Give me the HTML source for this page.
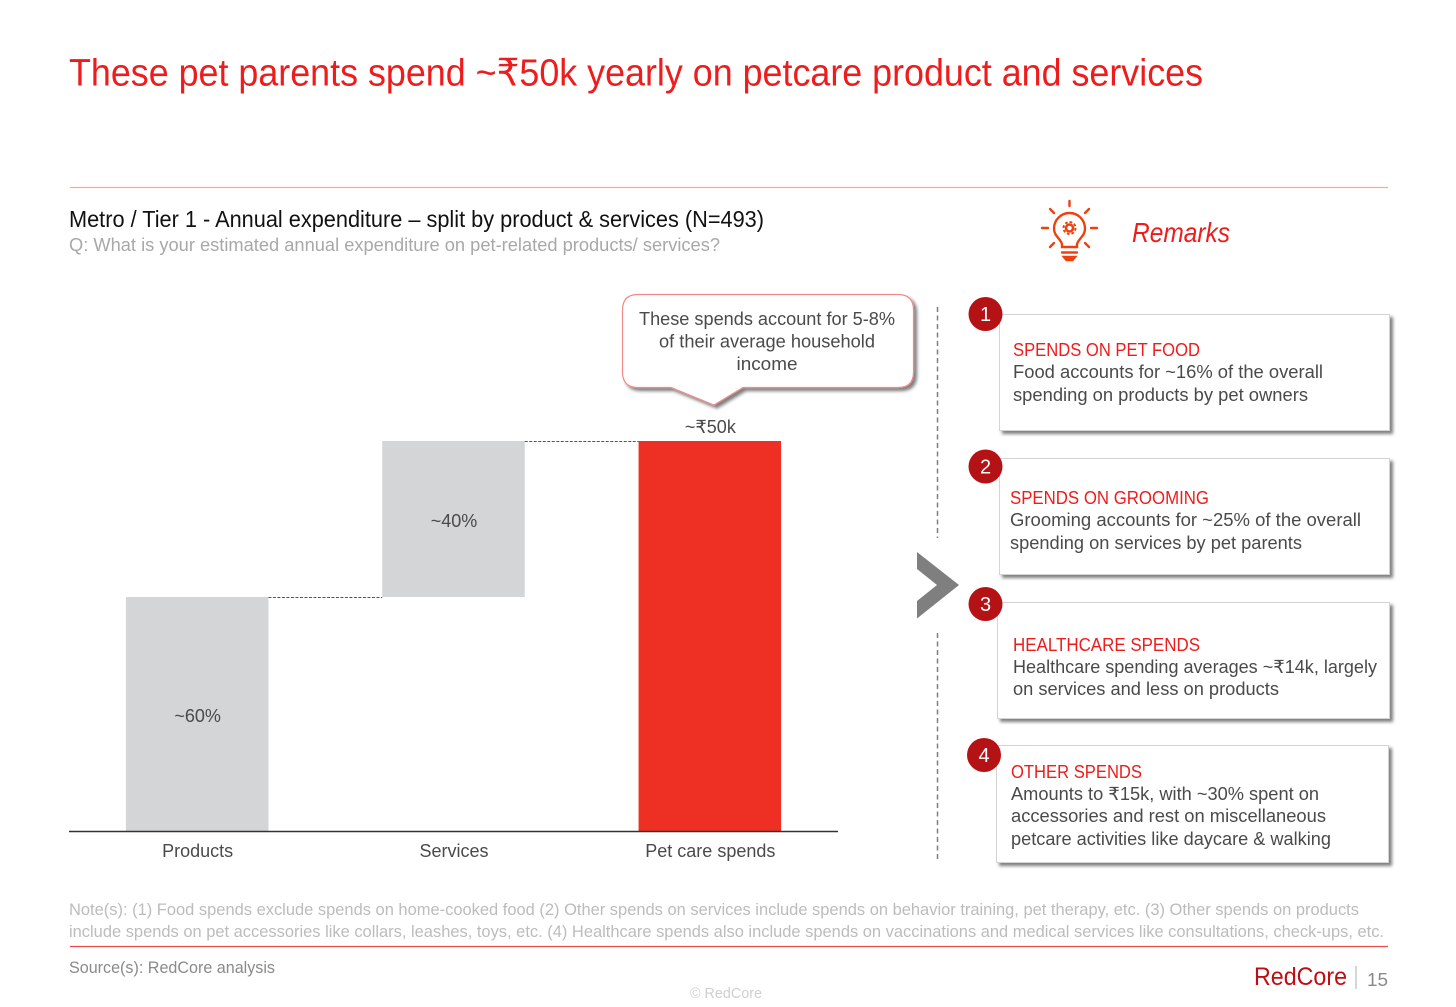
<!DOCTYPE html>
<html lang="en">
<head>
<meta charset="utf-8">
<title>Pet parents annual spend</title>
<style>
html,body{margin:0;padding:0;background:#fff;width:1456px;height:1007px;overflow:hidden}
svg{display:block}
text{font-family:"Liberation Sans","DejaVu Sans",sans-serif}
.body{font-size:18px;fill:#4a4a4a}
.head{font-size:18px;fill:#ee1c1c}
.note{font-size:16.5px;fill:#bcbcbc}
</style>
</head>
<body>
<svg id="slide" xmlns="http://www.w3.org/2000/svg" width="1456" height="1007" viewBox="0 0 1456 1007">
<defs>
<filter id="sh" x="-10%" y="-10%" width="125%" height="130%"><feDropShadow dx="3" dy="3" stdDeviation="1.5" flood-color="#000" flood-opacity=".5"/></filter>
</defs>
<rect width="1456" height="1007" fill="#fff"/>
<text x="69" y="85.5" font-size="38" fill="#ee1c1c" textLength="1134" lengthAdjust="spacingAndGlyphs">These pet parents spend ~₹50k yearly on petcare product and services</text>
<line x1="70" y1="187.5" x2="1388" y2="187.5" stroke="#f3a9a9" stroke-width="1.2"/>
<text x="69" y="227" font-size="23" fill="#111" textLength="695" lengthAdjust="spacingAndGlyphs">Metro / Tier 1 - Annual expenditure – split by product &amp; services (N=493)</text>
<text x="69" y="251" font-size="18" fill="#a8a8a8" textLength="651" lengthAdjust="spacingAndGlyphs">Q: What is your estimated annual expenditure on pet-related products/ services?</text>

<g id="chart"></g>

<g>
<path d="M638 294.500H898Q913.500 294.500 913.500 310V372Q913.500 387.500 898 387.500H743L714 405L671 387.500H638Q622.500 387.500 622.500 372V310Q622.500 294.500 638 294.500Z" fill="#fff" stroke="#ef8a8a" stroke-width="1.2" filter="url(#sh)"/>
<text x="767" y="325" text-anchor="middle" class="body" textLength="256" lengthAdjust="spacingAndGlyphs">These spends account for 5-8%</text>
<text x="767" y="347.500" text-anchor="middle" class="body" textLength="216" lengthAdjust="spacingAndGlyphs">of their average household</text>
<text x="767" y="370" text-anchor="middle" class="body" textLength="61" lengthAdjust="spacingAndGlyphs">income</text>
</g>

<line x1="937.500" y1="307" x2="937.500" y2="538" stroke="#808080" stroke-width="1.5" stroke-dasharray="5 3.500"/>
<line x1="937.500" y1="633" x2="937.500" y2="862" stroke="#808080" stroke-width="1.5" stroke-dasharray="5 3.500"/>
<path d="M917 552L959 585L917 618.500V601L937 585L917 569Z" fill="#7f7f7f"/>

<g fill="none" stroke="#f0400f" stroke-width="2.400" stroke-linecap="round">
<path d="M1062 247V244C1060 238 1054 236 1054 228.500A15.500 15.500 0 1 1 1085 228.500C1085 236 1079 238 1077 244V247Z"/>
<line x1="1062" y1="252.500" x2="1077" y2="252.500"/>
<path d="M1064 257H1075L1072.500 260H1066.500Z" fill="#f0400f"/>
<line x1="1069.500" y1="201" x2="1069.500" y2="206"/>
<line x1="1050" y1="209" x2="1054" y2="213"/>
<line x1="1089" y1="209" x2="1085" y2="213"/>
<line x1="1042" y1="228" x2="1048" y2="228"/>
<line x1="1091" y1="228" x2="1097" y2="228"/>
<line x1="1050" y1="247" x2="1054" y2="243"/>
<line x1="1089" y1="247" x2="1085" y2="243"/>
<circle cx="1069.500" cy="228" r="3.500" stroke-width="2.500"/>
<circle cx="1069.500" cy="228" r="6" stroke-width="2" stroke-linecap="butt" stroke-dasharray="2.700 2"/>
</g>
<text x="1132" y="242" font-size="28" font-style="italic" fill="#ee1c1c" textLength="98" lengthAdjust="spacingAndGlyphs">Remarks</text>

<g>
<rect x="999.500" y="314.500" width="390" height="116" fill="#fff" stroke="#d4d4d4" filter="url(#sh)"/>
<circle cx="985.500" cy="314" r="17" fill="#b51216"/>
<text x="985.500" y="321" text-anchor="middle" font-size="20" fill="#fff">1</text>
<text x="1013" y="356" class="head" textLength="187" lengthAdjust="spacingAndGlyphs">SPENDS ON PET FOOD</text>
<text x="1013" y="378" class="body" textLength="310" lengthAdjust="spacingAndGlyphs">Food accounts for ~16% of the overall</text>
<text x="1013" y="401" class="body" textLength="295" lengthAdjust="spacingAndGlyphs">spending on products by pet owners</text>
</g>
<g>
<rect x="999.500" y="458.500" width="390" height="116" fill="#fff" stroke="#d4d4d4" filter="url(#sh)"/>
<circle cx="985.500" cy="466.500" r="17" fill="#b51216"/>
<text x="985.500" y="473.500" text-anchor="middle" font-size="20" fill="#fff">2</text>
<text x="1010" y="504" class="head" textLength="199" lengthAdjust="spacingAndGlyphs">SPENDS ON GROOMING</text>
<text x="1010" y="526" class="body" textLength="351" lengthAdjust="spacingAndGlyphs">Grooming accounts for ~25% of the overall</text>
<text x="1010" y="549" class="body" textLength="292" lengthAdjust="spacingAndGlyphs">spending on services by pet parents</text>
</g>
<g>
<rect x="997.500" y="602.500" width="392" height="116" fill="#fff" stroke="#d4d4d4" filter="url(#sh)"/>
<circle cx="985.500" cy="604" r="17" fill="#b51216"/>
<text x="985.500" y="611" text-anchor="middle" font-size="20" fill="#fff">3</text>
<text x="1013" y="651" class="head" textLength="187" lengthAdjust="spacingAndGlyphs">HEALTHCARE SPENDS</text>
<text x="1013" y="673" class="body" textLength="364" lengthAdjust="spacingAndGlyphs">Healthcare spending averages ~₹14k, largely</text>
<text x="1013" y="695" class="body" textLength="266" lengthAdjust="spacingAndGlyphs">on services and less on products</text>
</g>
<g>
<rect x="996.500" y="745.500" width="392" height="117" fill="#fff" stroke="#d4d4d4" filter="url(#sh)"/>
<circle cx="984" cy="755" r="17" fill="#b51216"/>
<text x="984" y="762" text-anchor="middle" font-size="20" fill="#fff">4</text>
<text x="1011" y="778" class="head" textLength="131" lengthAdjust="spacingAndGlyphs">OTHER SPENDS</text>
<text x="1011" y="800" class="body" textLength="308" lengthAdjust="spacingAndGlyphs">Amounts to ₹15k, with ~30% spent on</text>
<text x="1011" y="822" class="body" textLength="315" lengthAdjust="spacingAndGlyphs">accessories and rest on miscellaneous</text>
<text x="1011" y="845" class="body" textLength="320" lengthAdjust="spacingAndGlyphs">petcare activities like daycare &amp; walking</text>
</g>

<text x="69" y="915" class="note" textLength="1290" lengthAdjust="spacingAndGlyphs">Note(s): (1) Food spends exclude spends on home-cooked food (2) Other spends on services include spends on behavior training, pet therapy, etc. (3) Other spends on products</text>
<text x="69" y="937" class="note" textLength="1315" lengthAdjust="spacingAndGlyphs">include spends on pet accessories like collars, leashes, toys, etc. (4) Healthcare spends also include spends on vaccinations and medical services like consultations, check-ups, etc.</text>
<line x1="70" y1="946.500" x2="1388" y2="946.500" stroke="#ef4a4a" stroke-width="1.200"/>
<text x="69" y="973" font-size="16.500" fill="#8a8a8a" textLength="206" lengthAdjust="spacingAndGlyphs">Source(s): RedCore analysis</text>
<text x="690" y="998" font-size="14.500" fill="#cfcfcf" textLength="72" lengthAdjust="spacingAndGlyphs">© RedCore</text>
<text x="1254" y="985" font-size="25" fill="#c00d12" textLength="93" lengthAdjust="spacingAndGlyphs">RedCore</text>
<line x1="1356" y1="966" x2="1356" y2="989" stroke="#c9c9c9" stroke-width="1.500"/>
<text x="1367" y="986" font-size="18" fill="#8a8a8a" textLength="21" lengthAdjust="spacingAndGlyphs">15</text>
</svg>
<script>
var categories = ['Products', 'Services', 'Pet care spends'];
var seriesValues = [60, 40, 100];
var barLabels = ['~60%', '~40%', '~₹50k'];
var barKinds = ['part', 'part', 'total'];

var NS = 'http://www.w3.org/2000/svg';
var chart = document.getElementById('chart');
var plot = { left: 69, right: 838, top: 441, base: 831, max: 100 };
var step = (plot.right - plot.left) / categories.length;
var barWidth = step * 0.556;

function xCenter(i) { return plot.left + step * (i + 0.5); }
function yScale(v) { return plot.base - (v / plot.max) * (plot.base - plot.top); }
function make(tag, attrs) {
  var el = document.createElementNS(NS, tag);
  for (var k in attrs) el.setAttribute(k, attrs[k]);
  chart.appendChild(el);
  return el;
}

var running = 0;
var tops = [];
categories.forEach(function (name, i) {
  var isTotal = barKinds[i] === 'total';
  var start = isTotal ? 0 : running;
  var end = isTotal ? seriesValues[i] : running + seriesValues[i];
  running = end;
  tops.push(end);
  var bar = make('rect', {
    x: xCenter(i) - barWidth / 2,
    y: yScale(end),
    width: barWidth,
    height: yScale(start) - yScale(end),
    fill: isTotal ? '#ee3024' : '#d4d5d7'
  });
  
  

  var label = make('text', {
    x: xCenter(i) + 0.5,
    y: isTotal ? yScale(end) - 8 : (yScale(start) + yScale(end)) / 2 + 8,
    'text-anchor': 'middle',
    'font-size': 18,
    fill: '#4a4a4a'
  });
  label.textContent = barLabels[i];
  
  

  var tick = make('text', {
    x: xCenter(i) + 0.5,
    y: plot.base + 26,
    'text-anchor': 'middle',
    'font-size': 18,
    fill: '#4a4a4a'
  });
  tick.textContent = name;
  
  
});

for (var c = 0; c < categories.length - 1; c++) {
  var conn = make('line', {
    x1: xCenter(c) + barWidth / 2,
    x2: xCenter(c + 1) - barWidth / 2,
    y1: yScale(tops[c]) + 0.5,
    y2: yScale(tops[c]) + 0.5,
    stroke: '#555',
    'stroke-width': 1,
    'stroke-dasharray': '3 1.5'
  });
  
  
}

var axis = make('line', {
  x1: plot.left,
  x2: plot.right,
  y1: plot.base + 0.5,
  y2: plot.base + 0.5,
  stroke: '#333',
  'stroke-width': 1.5
});


</script>
</body>
</html>
